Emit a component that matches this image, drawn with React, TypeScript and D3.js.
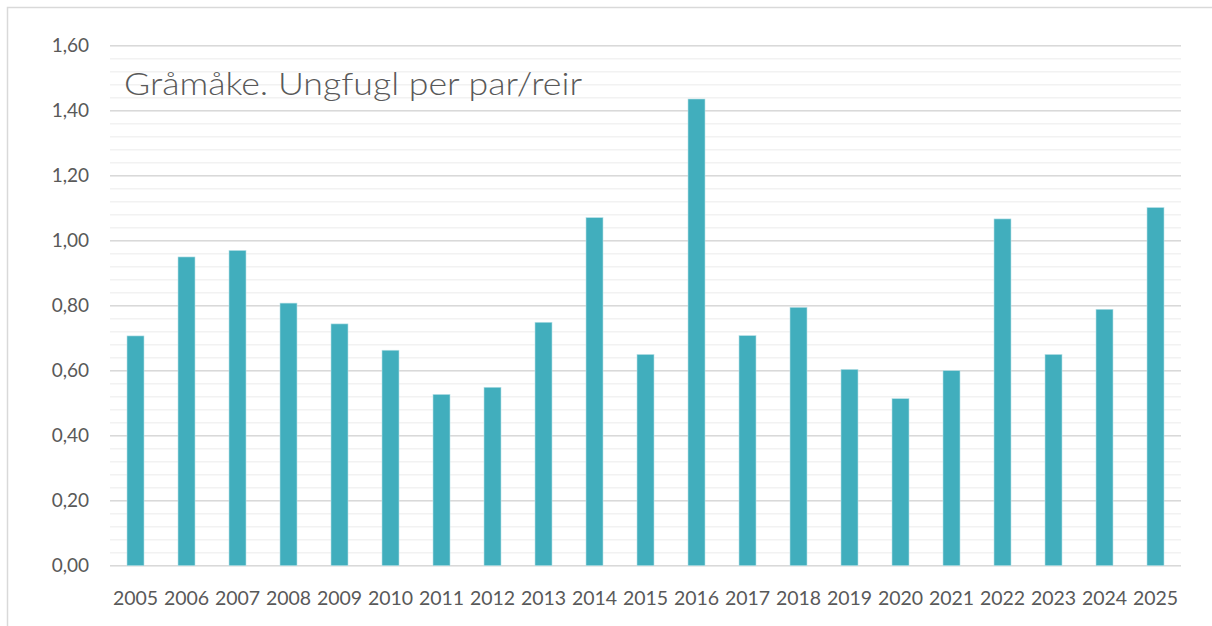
import React from "react";
import * as d3 from "d3";

const years = ["2005","2006","2007","2008","2009","2010","2011","2012","2013","2014","2015","2016","2017","2018","2019","2020","2021","2022","2023","2024","2025"];
const values = [0.707,0.950,0.970,0.808,0.744,0.663,0.527,0.549,0.749,1.071,0.650,1.436,0.708,0.795,0.604,0.514,0.600,1.067,0.650,0.789,1.102];
const majorTicks = [0, 0.2, 0.4, 0.6, 0.8, 1.0, 1.2, 1.4, 1.6];
const minorTicks = d3.range(0, 41).map((i) => i * 0.04);
const title = "Gråmåke. Ungfugl per par/reir";

const W = 1212;
const H = 626;
const left = 110;
const right = 1181;
const top = 45.7;
const bottom = 565.7;
const FONT = "Lato, 'Open Sans', sans-serif";

export default function App() {
  const x = d3.scaleBand<string>().domain(years).range([left, right]).paddingInner(0).paddingOuter(0);
  const y = d3.scaleLinear().domain([0, 1.6]).range([bottom, top]);
  const barW = x.bandwidth() / 3;
  const fmt = (v: number) => v.toFixed(2).replace(".", ",");

  return (
    <svg width={W} height={H} style={{ position: "absolute", left: 0, top: 0, background: "#fff" }}>
      <rect x={7.5} y={7.5} width={W + 10} height={H + 10} fill="#fff" stroke="#d9d9d9" strokeWidth={1.5} />
      {minorTicks.map((t, i) => (
        <line key={"mi" + i} x1={left} x2={right} y1={y(t)} y2={y(t)} stroke="#f2f2f2" strokeWidth={1.5} />
      ))}
      {majorTicks.map((t, i) => (
        <line key={"ma" + i} x1={left} x2={right} y1={y(t)} y2={y(t)} stroke="#d9d9d9" strokeWidth={1.5} />
      ))}
      {majorTicks.map((t, i) => (
        <text key={"yl" + i} x={89} y={y(t)} dy="0.35em" textAnchor="end" fontFamily={FONT} fontSize={19} fill="#595959">
          {fmt(t)}
        </text>
      ))}
      {years.map((yr, i) => {
        const cx = (x(yr) as number) + x.bandwidth() / 2;
        return (
          <g key={yr}>
            <rect x={cx - barW / 2} y={y(values[i])} width={barW} height={bottom - y(values[i])} fill="#41aebd" stroke="#b8e0e6" strokeWidth={0.6} />
            <text x={cx} y={598} dy="0.35em" textAnchor="middle" fontFamily={FONT} fontSize={19.5} fill="#595959">
              {yr}
            </text>
          </g>
        );
      })}
      <text x={124} y={95} fontFamily={FONT} fontSize={31} fontWeight={300} fill="#595959" textLength={458} lengthAdjust="spacingAndGlyphs">
        {title}
      </text>
    </svg>
  );
}
